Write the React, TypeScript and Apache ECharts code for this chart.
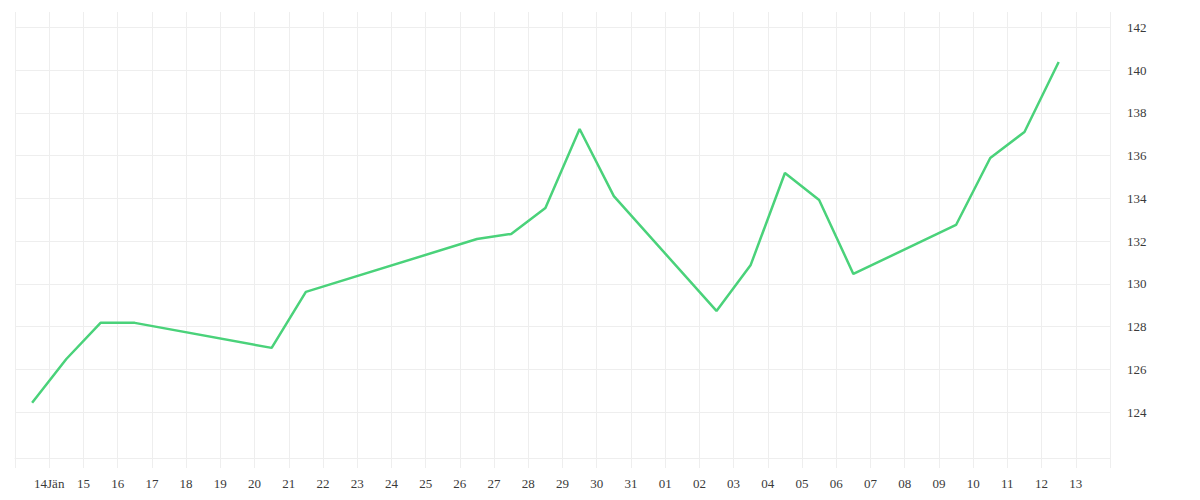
import React, { useEffect, useRef } from "react";
import * as echarts from "echarts";

const axisStart = "2024-01-13";
const tickLabels = [
  "", "14Jän", "15", "16", "17", "18", "19", "20", "21", "22", "23", "24", "25", "26", "27", "28", "29", "30", "31",
  "01", "02", "03", "04", "05", "06", "07", "08", "09", "10", "11", "12", "13", "",
];
const dates = [
  "2024-01-13", "2024-01-14", "2024-01-15", "2024-01-16", "2024-01-20", "2024-01-21", "2024-01-26",
  "2024-01-27", "2024-01-28", "2024-01-29", "2024-01-30", "2024-02-02", "2024-02-03", "2024-02-04",
  "2024-02-05", "2024-02-06", "2024-02-09", "2024-02-10", "2024-02-11", "2024-02-12",
];
const values = [
  124.44, 126.49, 128.18, 128.18, 127.01, 129.63, 132.1, 132.34, 133.55, 137.25, 134.11, 128.74,
  130.89, 135.19, 133.93, 130.47, 132.76, 135.89, 137.11, 140.38,
];
const yTicks = [124, 126, 128, 130, 132, 134, 136, 138, 140, 142];
const yMin = 121.86;
const yMax = 142.72;

const DAY = 86400000;

export default function App() {
  const ref = useRef<HTMLDivElement>(null);
  useEffect(() => {
    if (!ref.current) return;
    const chart = echarts.init(ref.current, undefined, { renderer: "svg" });
    const t0 = Date.parse(axisStart + "T00:00:00Z");
    const data = dates.map((d, i) => [(Date.parse(d + "T12:00:00Z") - t0) / DAY, values[i]]);
    const gridColor = "#eeeeee";
    const textStyle = { color: "#3a3a3a", fontFamily: "serif", fontSize: 13 };
    chart.setOption({
      animation: false,
      backgroundColor: "#ffffff",
      grid: { left: 15, right: 90, top: 12, bottom: 42 },
      xAxis: {
        type: "value",
        min: 0,
        max: tickLabels.length - 1,
        interval: 1,
        axisLine: { show: true, lineStyle: { color: gridColor, width: 1 } },
        axisTick: { show: true, length: 10, lineStyle: { color: gridColor } },
        splitLine: { show: true, lineStyle: { color: gridColor, width: 1 } },
        axisLabel: {
          ...textStyle,
          margin: 19,
          showMinLabel: true,
          showMaxLabel: true,
          formatter: (v: number) => tickLabels[Math.round(v)] ?? "",
        },
      },
      yAxis: {
        type: "value",
        position: "right",
        min: yMin,
        max: yMax,
        axisLine: { show: false },
        axisTick: { show: false, customValues: yTicks },
        splitLine: { show: true, lineStyle: { color: gridColor, width: 1 } },
        axisLabel: {
          ...textStyle,
          margin: 17,
          padding: [4, 0, 0, 0],
          customValues: yTicks,
          formatter: (v: number) => String(v),
        },
      },
      series: [
        {
          type: "line",
          data,
          symbol: "none",
          lineStyle: { color: "#4ad27a", width: 2.5 },
          itemStyle: { color: "#4ad27a" },
        },
      ],
    });
    return () => chart.dispose();
  }, []);
  return (
    <div
      ref={ref}
      style={{ position: "fixed", left: 0, top: 0, width: 1200, height: 500, background: "#fff" }}
    />
  );
}
